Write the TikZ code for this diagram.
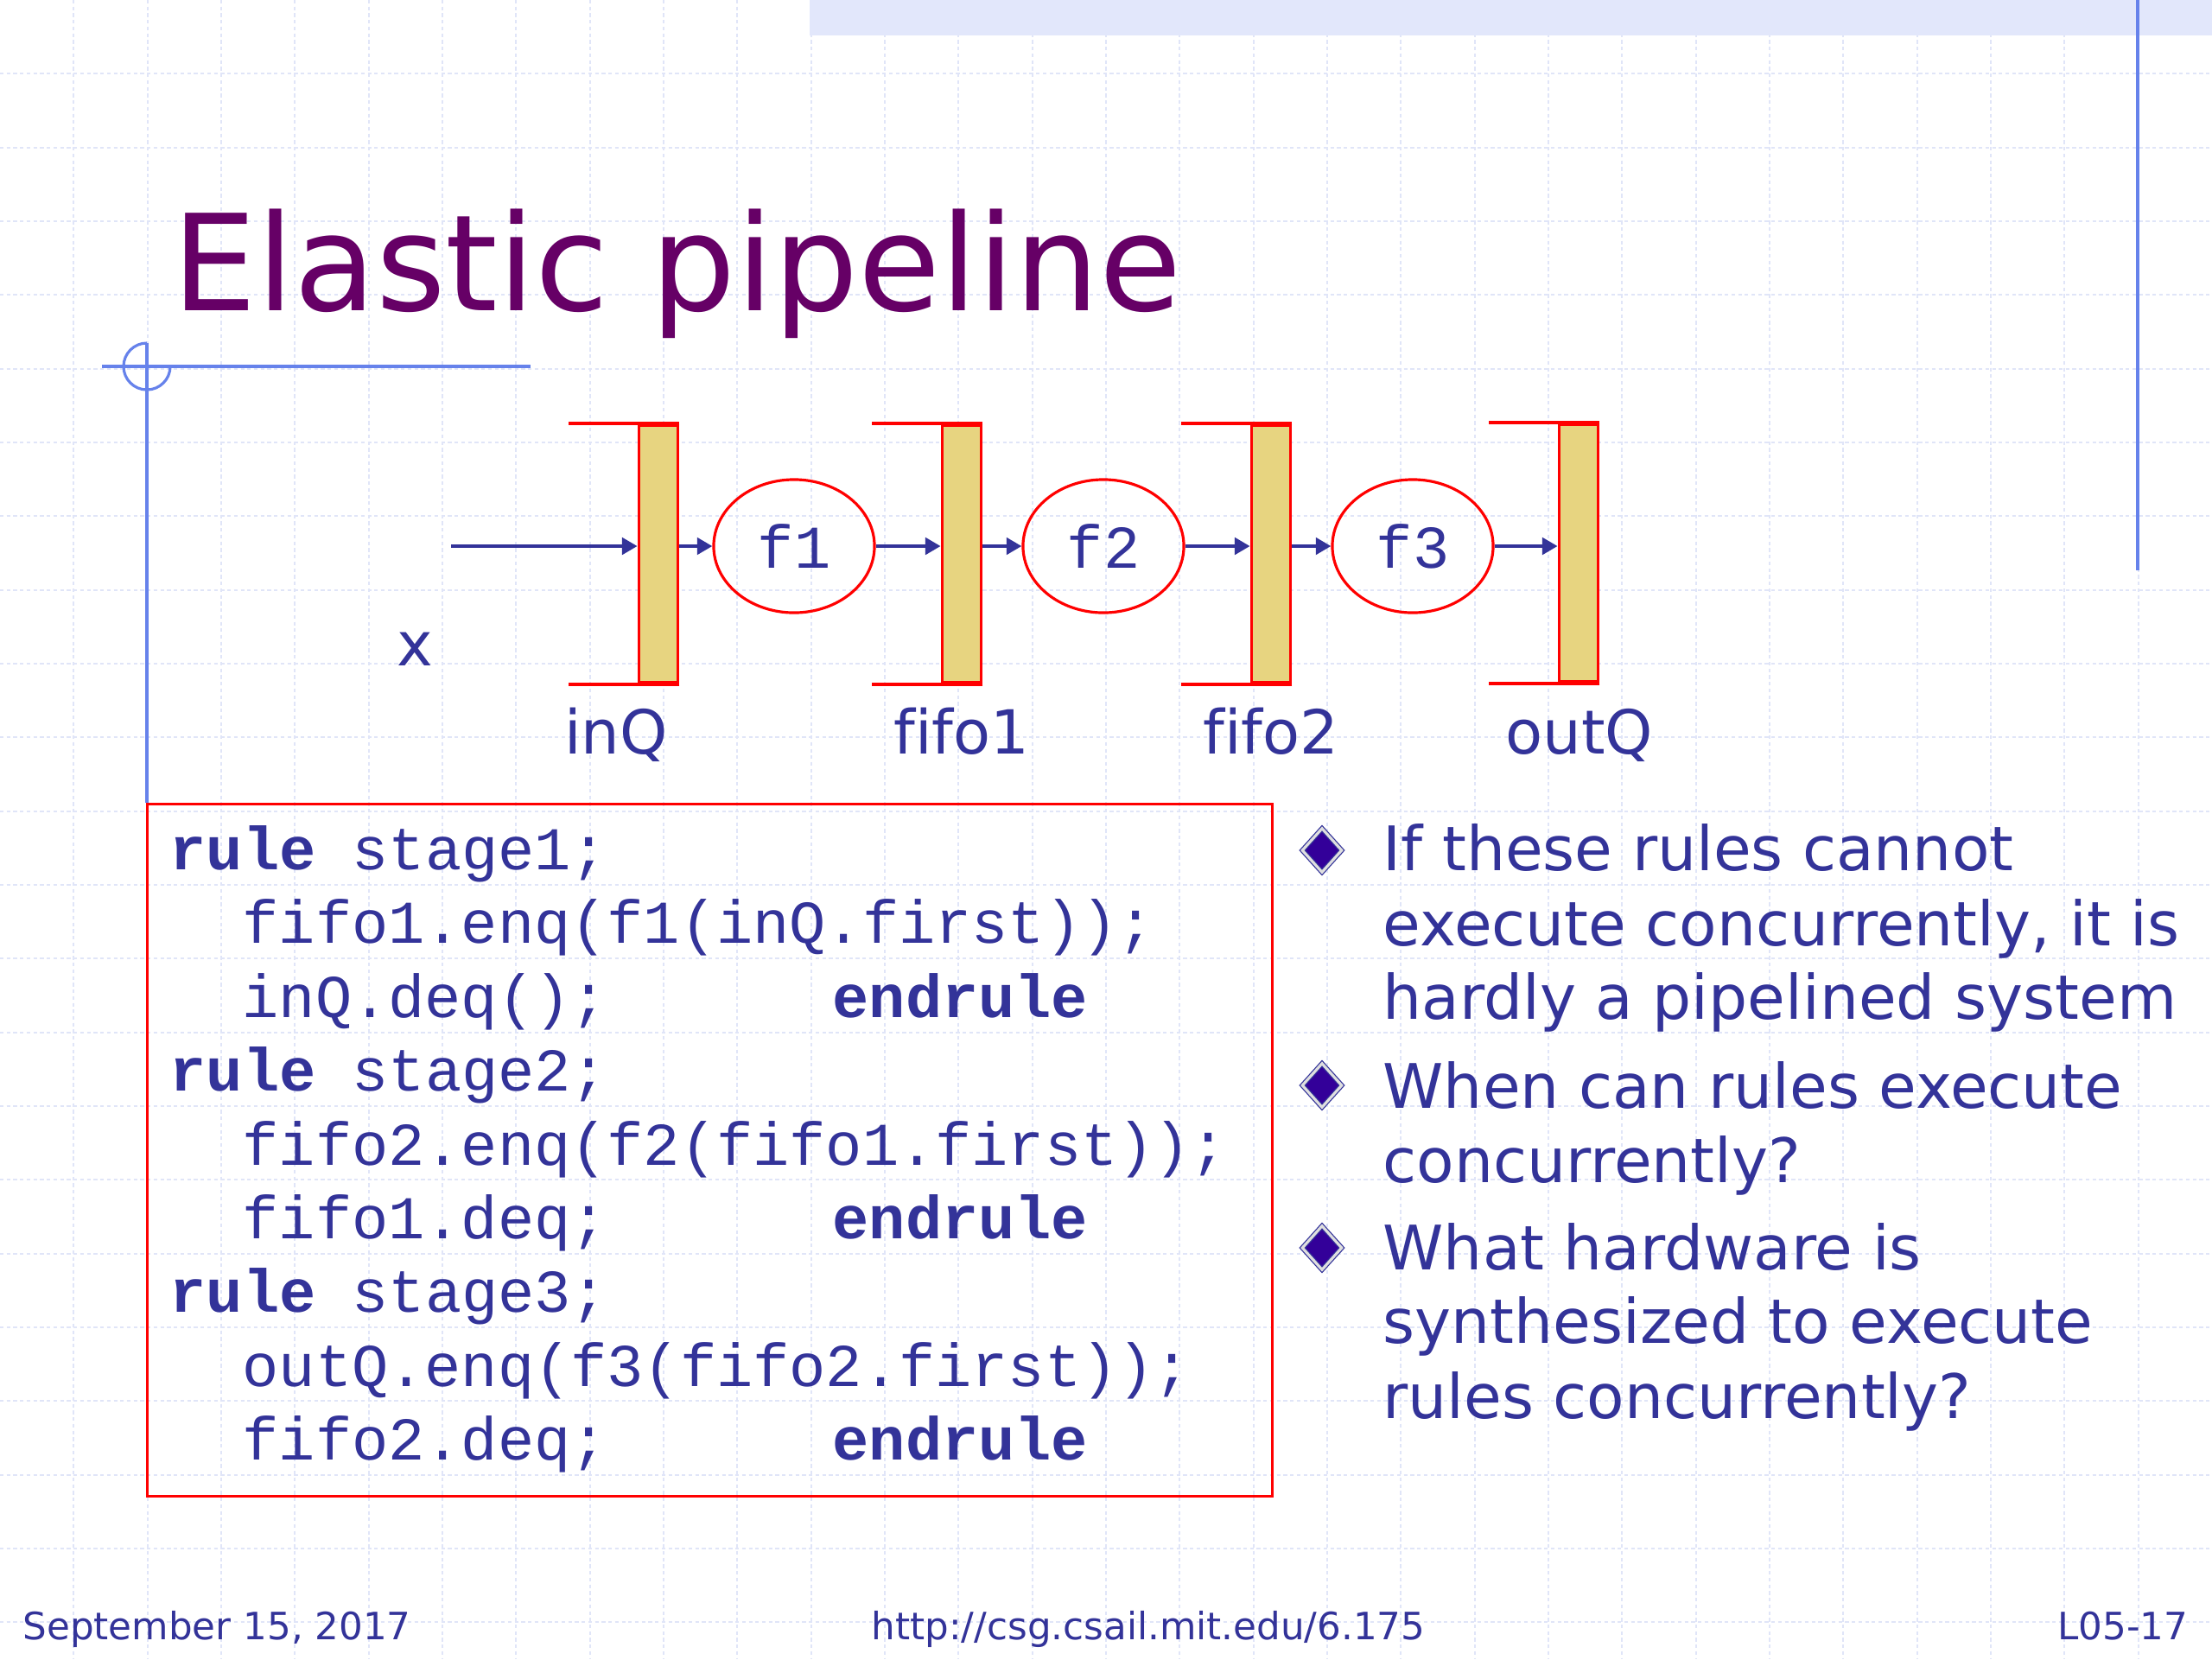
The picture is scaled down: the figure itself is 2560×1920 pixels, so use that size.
\documentclass[tikz,border=0pt]{standalone}
\usepackage{fontspec}
\setmainfont{DejaVu Sans}[Ligatures=NoCommon]
\newfontfamily\codefont{Liberation Mono}
\usetikzlibrary{positioning,arrows.meta,shapes.geometric}
\definecolor{navy}{RGB}{51,51,153}
\definecolor{plum}{RGB}{102,0,102}
\definecolor{fifofill}{RGB}{231,212,128}
\definecolor{guide}{RGB}{102,130,235}
\definecolor{gridc}{RGB}{224,229,248}
\definecolor{band}{RGB}{226,231,251}
\definecolor{bulletc}{RGB}{51,0,153}

\begin{document}
\begin{tikzpicture}[
        x=0.01cm, y=-0.01cm,
        txt/.style  = {inner sep=0pt, text=navy, font=\fontsize{20}{24}\selectfont},
        lbl/.style  = {txt, anchor=base},
        line/.style = {txt, anchor=base west},
        foot/.style = {txt, font=\fontsize{12.4}{14}\selectfont},
        code/.style = {inner sep=0pt, anchor=base west, text=navy,
                       font=\codefont\fontsize{20}{24}\selectfont},
        fifo/.style = {rectangle, draw=red, line width=1.1pt, fill=fifofill,
                       minimum width=0.45cm, minimum height=2.98cm, inner sep=0pt},
        lip/.style  = {draw=red, line width=1.2pt},
        func/.style = {ellipse, draw=red, line width=0.9pt,
                       minimum width=1.86cm, minimum height=1.54cm, inner sep=0pt,
                       text=navy, font=\codefont\fontsize{20}{24}\selectfont},
        arr/.style  = {-{Triangle[length=5pt,width=5.5pt]}, draw=navy, line width=1.1pt},
        gridline/.style  = {draw=gridc, line width=0.6pt, dash pattern=on 1.2pt off 1pt},
        guideline/.style = {draw=guide, line width=0.9pt},
        bull/.style = {diamond, fill=bulletc, draw=navy, double=gray!25,
                       double distance=0.9pt, line width=0.35pt,
                       minimum width=0.46cm, minimum height=0.51cm, inner sep=0pt}
    ]
    \useasboundingbox (0,0) rectangle (2560,1920);
    \fill[white] (0,0) rectangle (2560,1920);

    % slide background
    \foreach \i in {1,...,29} \draw[gridline] (\i*85.333,0) -- (\i*85.333,1920);
    \foreach \j in {1,...,22} \draw[gridline] (0,\j*85.333) -- (2560,\j*85.333);
    \fill[band] (937,0) rectangle (2560,41);
    \draw[guideline] (2474,0) -- (2474,660);

    \node[anchor=base west, inner sep=0pt, text=plum,
          font=\fontsize{44}{53}\selectfont] (title) at (199,359) {Elastic pipeline};

    % code box
    \node[draw=red, line width=0.85pt, minimum width=13.02cm, minimum height=8.0cm,
          inner sep=0pt] (codebox) at (821.5,1331) {};
    \coordinate (mark) at (170,424);
    \draw[guideline] (118,424) -- (614,424);
    \draw[guideline] (mark |- 0,397) -- (mark |- codebox.north);
    \draw[guideline] (170,397) arc[start angle=90, end angle=360, radius=0.27cm];

    % pipeline
    \node[fifo] (inQ)   at (762,641)  {};
    \node[fifo] (fifo1) at (1113,641) {};
    \node[fifo] (fifo2) at (1471,641) {};
    \node[fifo] (outQ)  at (1827,640) {};
    \foreach \q in {inQ,fifo1,fifo2,outQ}
        \draw[lip] (\q.north east) -- ++(-128,0) (\q.south east) -- ++(-128,0);
    \node[func] (f1) at (919,632)  {f1};
    \node[func] (f2) at (1277,632) {f2};
    \node[func] (f3) at (1635,632) {f3};

    \coordinate (xin) at (522,632);
    \draw[arr] (xin) -- (inQ.west |- xin);
    \draw[arr] (inQ.east |- f1.west) -- (f1.west);
    \draw[arr] (f1.east) -- (fifo1.west |- f1.east);
    \draw[arr] (fifo1.east |- f2.west) -- (f2.west);
    \draw[arr] (f2.east) -- (fifo2.west |- f2.east);
    \draw[arr] (fifo2.east |- f3.west) -- (f3.west);
    \draw[arr] (f3.east) -- (outQ.west |- f3.east);

    \node[lbl] (xlab)     at (480,770)  {x};
    \node[lbl] (inQlab)   at (713,872)  {inQ};
    \node[lbl] (fifo1lab) at (1113,872) {fifo1};
    \node[lbl] (fifo2lab) at (1471,872) {fifo2};
    \node[lbl] (outQlab)  at (1828,872) {outQ};

    % rules
    \foreach \y/\xx/\t [count=\n] in {
        1006/196/{\textbf{rule} stage1;},
        1091/280/{fifo1.enq(f1(inQ.first));},
        1177/280/{inQ.deq();},
        1262/196/{\textbf{rule} stage2;},
        1348/280/{fifo2.enq(f2(fifo1.first));},
        1433/280/{fifo1.deq;},
        1518/196/{\textbf{rule} stage3;},
        1604/280/{outQ.enq(f3(fifo2.first));},
        1689/280/{fifo2.deq;}}
        \node[code] (code\n) at (\xx,\y) {\t};
    \foreach \y in {1177,1433,1689}
        \node[code] (end\y) at (963,\y) {\textbf{endrule}};

    % bullets
    \node[bull] (b1) at (1530,984)  {};
    \node[bull] (b2) at (1530,1256) {};
    \node[bull] (b3) at (1530,1444) {};
    \foreach \y/\t [count=\n] in {
        1007/{If these rules cannot},
        1094/{execute concurrently, it is},
        1179/{hardly a pipelined system},
        1282/{When can rules execute},
        1368/{concurrently?},
        1469/{What hardware is},
        1554/{synthesized to execute},
        1641/{rules concurrently?}}
        \node[line, font=\fontsize{20.2}{24}\selectfont] (say\n) at (1600,\y) {\t};

    % footer
    \node[foot, anchor=base west] (date) at (26,1897) {September 15, 2017};
    \node[foot, anchor=base] (url) at (1329,1897) {http://csg.csail.mit.edu/6.175};
    \node[foot, anchor=base east] (page) at (2533,1897) {L05-17};
\end{tikzpicture}
\end{document}
